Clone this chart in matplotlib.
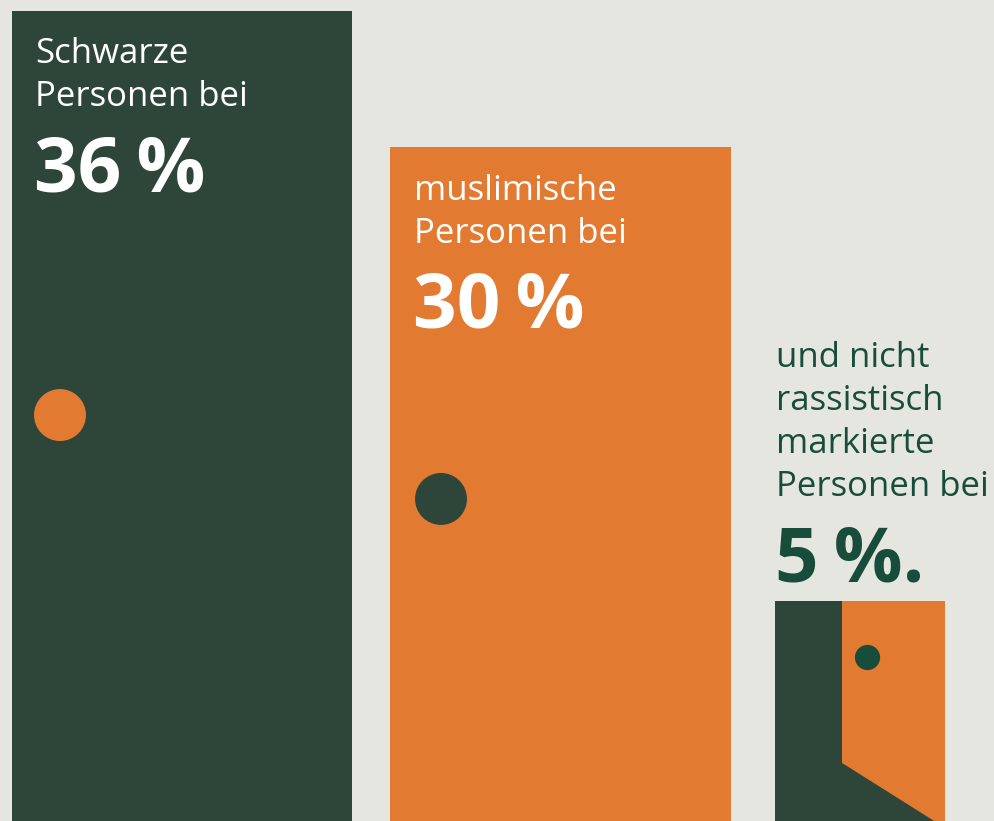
import matplotlib.pyplot as plt
from matplotlib.patches import Polygon

plt.rcParams['font.family'] = ['Open Sans', 'DejaVu Sans']

# data
groups = ['Schwarze\nPersonen bei', 'muslimische\nPersonen bei',
          'und nicht\nrassistisch\nmarkierte\nPersonen bei']
values = [36, 30, 5]
value_labels = ['36\u2009%', '30\u2009%', '5\u2009%.']
# drawn height of each door (the last one is an icon, not to scale)
door_heights = [36, 30, 10]

bg = '#e5e6df'
dark = '#2e4639'
orange = '#e27a32'
text_green = '#174d3a'

W, H = 995, 821
fig = plt.figure(figsize=(W / 100, H / 100), dpi=100, facecolor=bg)
ax = fig.add_axes([0, 0, 1, 1])
ax.set_facecolor(bg)
ax.set_xlim(0, W)
ax.set_ylim(0.3, 36.5)
ax.axis('off')

lefts = [12, 390, 775]
widths = [340, 341, 170]
colors = [dark, orange, dark]
ax.bar(lefts, door_heights, width=widths, align='edge', color=colors,
       linewidth=0, bottom=0)

# open door leaf on the small door
leaf_x = 842
right = lefts[2] + widths[2]
leaf = Polygon([(leaf_x, door_heights[2]), (right, door_heights[2]),
                (right, 0), (leaf_x, 2.86)], closed=True,
               facecolor=orange, edgecolor='none', zorder=3)
ax.add_patch(leaf)

# door knobs
ax.scatter([60, 441], [18.2, 14.5], s=1400, color=[orange, dark],
           linewidths=0, zorder=4)
ax.scatter([867], [7.53], s=330, color=text_green, linewidths=0, zorder=4)


def px(x, y):
    return x / W, 1 - y / H


# labels
label_cfg = [(35, 63, 'white'), (414, 200, 'white'), (776, 367, text_green)]
for (x, y0, c), g, v in zip(label_cfg, groups, value_labels):
    lines = g.split('\n')
    for i, line in enumerate(lines):
        fig.text(*px(x, y0 + i * 43), line, color=c, fontsize=25,
                 va='baseline', ha='left')
    fig.text(*px(x - 1, y0 + (len(lines) - 1) * 43 + 85), v, color=c,
             fontsize=55, fontweight='bold', va='baseline', ha='left')

fig.savefig('out.png', dpi=100, facecolor=bg)
